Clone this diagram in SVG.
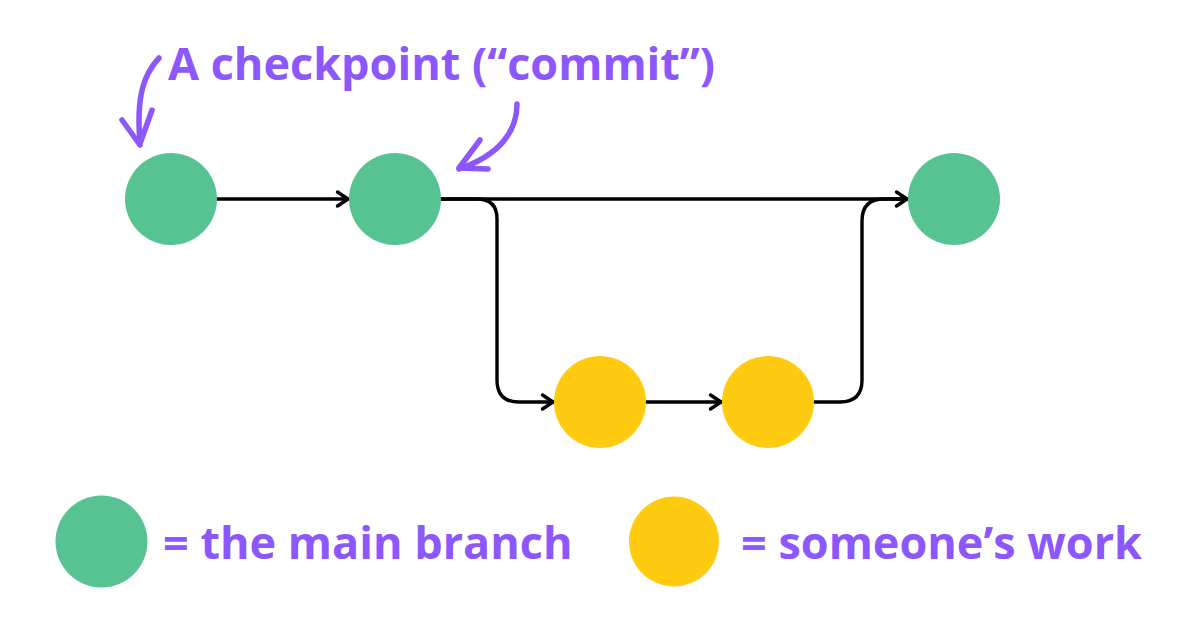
<svg xmlns="http://www.w3.org/2000/svg" width="1200" height="630" viewBox="0 0 1200 630">
  <style>
    .main { fill: #57C393; }
    .work { fill: #FECB10; }
    .label { font-family: "Open Sans", "Liberation Sans", sans-serif; font-weight: 700; font-size: 45px; fill: #8C57FC; }
    .conn { fill: none; stroke: #000; stroke-width: 3.4; stroke-linecap: round; stroke-linejoin: round; }
    .note { fill: none; stroke: #8C57FC; stroke-width: 5.5; stroke-linecap: round; stroke-linejoin: round; }
  </style>
  <defs>
    <marker id="chev" markerUnits="userSpaceOnUse" viewBox="-15 -15 30 30" markerWidth="30" markerHeight="30" refX="0" refY="0" orient="auto">
      <path d="M-10.5,-7 L0,0 L-10.5,7" fill="none" stroke="#000" stroke-width="3.4" stroke-linecap="round" stroke-linejoin="round"/>
    </marker>
  </defs>
  <rect width="1200" height="630" fill="#fff"/>

  <g id="connectors">
    <path class="conn" d="M217,199 H348" marker-end="url(#chev)"/>
    <path class="conn" d="M441,199 H907" marker-end="url(#chev)"/>
    <path class="conn" d="M441,199 H477 Q497,199 497,219 V380 Q497,402 519,402 H553" marker-end="url(#chev)"/>
    <path class="conn" d="M646,402 H721" marker-end="url(#chev)"/>
    <path class="conn" d="M814,402 H840 Q862,402 862,380 V221 Q862,199 884,199 H905"/>
  </g>

  <g id="commit-1"><circle class="main" cx="171" cy="199" r="46"/></g>
  <g id="commit-2"><circle class="main" cx="395" cy="199" r="46"/></g>
  <g id="commit-3"><circle class="main" cx="954" cy="199" r="46"/></g>
  <g id="work-1"><circle class="work" cx="600" cy="402" r="46"/></g>
  <g id="work-2"><circle class="work" cx="768" cy="402" r="46"/></g>

  <g id="annotation">
    <text class="label" x="168" y="80">A checkpoint (“commit”)</text>
    <path class="note" d="M159,58 C144,74 136,96 140,143"/>
    <path class="note" d="M122,120 L140,145 M152,110 L141,141"/>
    <path class="note" d="M517,104 C517,131 500,155 459,169"/>
    <path class="note" d="M480,140 L459,168 L488,169"/>
  </g>

  <g id="legend-main">
    <circle class="main" cx="101.5" cy="541.5" r="46"/>
    <text class="label" x="163" y="559">= the main branch</text>
  </g>
  <g id="legend-work">
    <circle class="work" cx="674" cy="541.5" r="45"/>
    <text class="label" x="741" y="559">= someone’s work</text>
  </g>
</svg>
